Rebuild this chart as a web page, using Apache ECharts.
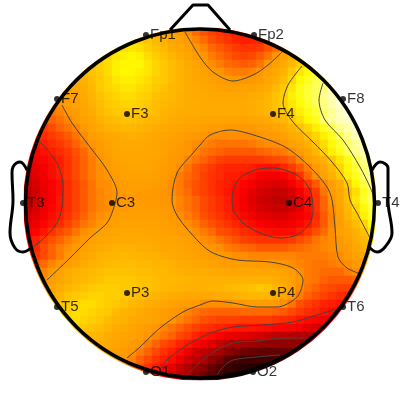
<!DOCTYPE html>
<html><head><meta charset="utf-8">
<style>html,body{margin:0;padding:0;background:#fff}#c{width:400px;height:400px}</style>
<script src="https://cdn.jsdelivr.net/npm/echarts@6/dist/echarts.min.js"></script>
</head><body><div id="c"></div>
<script>
// potential map: each row holds only the cells inside the head, centred
const row00=[66,64,62,60,57,55,51,48,46,44,43,41,41,41];
const row01=[73,72,71,69,67,65,62,60,57,54,51,48,46,44,42,41,41,42,44,47];
const row02=[71,72,73,74,73,71,69,67,64,62,59,56,54,51,49,47,45,44,44,45,48,51,56,62];
const row03=[70,72,74,75,76,75,73,71,69,66,64,61,58,56,53,51,49,47,46,47,49,52,56,60,64,69];
const row04=[66,68,71,73,75,76,76,76,74,72,70,68,66,63,60,58,55,53,51,50,49,50,52,56,59,63,67,71,74,78];
const row05=[63,66,69,71,73,75,76,76,75,74,72,70,68,66,64,62,60,57,56,54,53,53,54,56,59,62,66,70,74,77,81,88];
const row06=[60,62,65,68,70,72,74,75,75,74,73,71,70,68,66,64,62,61,59,58,57,56,56,56,58,61,64,68,72,76,79,83,87,92];
const row07=[58,60,62,64,67,70,72,73,74,74,73,72,70,69,67,66,64,63,62,61,60,59,59,60,60,62,64,67,70,74,78,81,84,87,92,95];
const row08=[56,58,60,63,66,69,71,72,73,73,72,71,69,68,67,65,64,63,63,62,62,62,62,62,63,64,66,69,71,75,78,81,84,88,92,95];
const row09=[54,56,58,60,62,65,68,70,71,72,72,71,70,68,67,66,65,64,64,63,63,63,63,63,63,64,65,67,69,71,74,77,80,84,87,91,95,96];
const row10=[50,52,54,56,58,61,64,67,69,70,70,70,70,69,68,66,65,64,64,64,63,63,63,63,63,63,64,65,66,68,70,72,75,78,81,85,89,93,96,97];
const row11=[47,50,52,54,57,59,62,65,67,68,69,69,68,67,66,65,64,63,62,62,61,61,61,60,60,60,61,62,63,65,67,70,73,76,79,85,89,92,94,96];
const row12=[43,45,47,50,52,54,57,60,63,65,66,67,67,66,65,64,63,62,61,60,60,59,58,58,57,57,57,57,58,59,61,63,66,69,72,75,79,83,88,91,94,96];
const row13=[41,43,45,47,49,52,55,58,60,62,63,64,65,64,63,62,61,60,59,58,57,56,55,55,55,55,55,55,56,57,58,60,63,65,69,72,75,79,84,88,92,95];
const row14=[39,41,43,45,47,50,53,56,58,60,62,63,63,63,62,61,60,59,58,56,55,54,53,52,52,52,52,53,54,55,55,56,59,62,65,69,73,77,81,85,89,93];
const row15=[36,37,39,41,43,45,48,51,54,57,59,61,62,62,62,62,61,60,58,57,56,54,52,51,50,49,49,49,49,50,51,52,53,55,58,61,67,71,75,79,84,88,91,94];
const row16=[33,35,37,39,41,44,47,50,53,56,58,60,61,62,62,61,60,59,57,56,54,52,50,48,46,45,45,45,45,45,46,47,48,50,54,58,62,65,70,74,78,83,88,92];
const row17=[31,33,35,38,41,44,47,50,53,55,57,59,60,61,61,61,60,58,57,55,52,49,47,45,43,42,42,42,41,40,39,40,42,45,49,53,57,62,67,72,76,81,86,90];
const row18=[30,32,35,38,41,44,47,50,53,55,56,58,60,60,60,60,59,58,56,53,51,49,46,44,43,41,41,40,38,36,35,35,36,39,44,50,55,60,65,70,75,79,85,89];
const row19=[29,31,34,36,39,43,46,49,52,55,55,57,58,59,59,59,58,57,55,53,50,48,46,44,42,41,39,37,35,33,32,31,32,35,39,44,49,54,59,64,71,76,82,87];
const row20=[28,30,33,36,39,43,46,49,52,54,55,56,57,58,58,58,57,56,55,53,51,48,46,44,42,40,38,36,33,31,30,29,29,31,35,40,45,52,58,62,68,73,79,84];
const row21=[27,30,33,36,40,43,46,49,52,54,55,56,57,57,57,57,57,56,56,54,52,50,47,45,43,41,38,35,32,30,29,28,28,29,33,38,44,50,56,61,68,74,80,85];
const row22=[28,31,34,37,40,43,46,49,52,54,55,57,57,58,58,58,58,57,56,54,52,50,47,45,43,41,38,35,33,31,30,29,29,30,33,38,44,50,55,60,67,72,77,82];
const row23=[30,32,35,38,41,44,47,50,53,55,56,58,59,59,59,59,59,58,57,55,53,51,48,46,44,42,40,37,35,33,32,31,31,33,35,37,43,49,54,59,66,70,75,80];
const row24=[32,34,37,40,43,46,49,52,54,56,58,59,60,60,60,60,60,59,58,57,55,53,50,48,46,44,42,40,38,36,35,34,34,35,37,40,44,49,54,58,64,68,72,77];
const row25=[35,37,40,44,47,49,52,55,57,59,60,61,62,62,62,61,61,60,59,58,57,55,53,51,48,47,45,43,42,40,39,38,38,38,41,44,48,51,55,59,62,65,69,74];
const row26=[38,41,45,48,50,53,55,57,59,61,62,63,63,63,63,63,62,61,61,60,59,57,55,54,52,50,48,46,45,44,44,44,44,45,47,49,52,54,55,57,60,64,67,72];
const row27=[39,42,47,50,53,55,57,59,61,63,64,65,65,65,64,64,63,62,62,61,60,59,57,56,55,53,52,51,50,49,49,49,49,50,51,52,53,54,55,56,58,62,66,70];
const row28=[42,44,47,50,53,56,58,61,63,65,66,66,67,66,66,65,65,64,63,62,61,60,59,58,57,56,55,55,54,54,54,54,54,54,53,53,53,53,54,55,57,60,62,66];
const row29=[48,51,54,56,58,60,63,65,66,67,68,68,68,67,67,66,66,65,64,63,62,61,60,59,58,58,58,58,57,57,56,56,55,54,53,52,52,53,54,55,57,60];
const row30=[52,54,57,60,63,65,66,67,68,69,69,69,69,68,68,67,67,66,65,64,64,64,63,63,62,62,62,62,61,61,61,60,58,55,53,52,51,51,51,53,55,57];
const row31=[54,55,58,61,64,66,67,68,69,70,70,70,70,69,69,68,67,67,66,66,65,65,65,65,65,65,65,65,65,65,64,62,59,56,53,52,50,49,49,49,50,52];
const row32=[57,61,64,66,68,69,70,71,71,71,70,70,69,69,68,67,66,66,65,65,65,66,66,67,68,68,69,70,69,66,64,60,55,52,50,48,47,46,46,46];
const row33=[60,63,66,69,70,71,72,72,71,71,70,69,68,67,66,65,64,63,62,62,62,62,63,64,65,66,67,67,66,64,61,57,53,50,48,46,44,43,42,42];
const row34=[66,69,71,72,73,73,72,71,70,69,67,66,64,63,62,60,59,58,57,55,55,55,55,56,57,58,58,58,57,55,52,48,46,44,42,41,40,38];
const row35=[71,72,73,73,72,71,70,68,66,65,63,61,60,58,57,56,54,52,51,50,50,50,50,51,51,51,51,50,49,47,45,43,42,40,38,37];
const row36=[72,72,73,72,71,70,68,66,65,63,62,61,60,58,56,54,52,50,48,47,46,46,46,45,45,45,45,44,43,42,40,38,37,35,33,32];
const row37=[71,71,70,69,68,66,64,63,61,59,58,56,54,52,50,48,46,44,43,42,41,40,40,40,39,38,37,37,37,35,33,31,29,28];
const row38=[69,68,67,66,64,62,61,60,58,56,54,52,50,47,45,42,40,38,36,34,33,32,31,30,29,28,27,26,26,25,25,25];
const row39=[66,66,64,63,61,60,58,56,53,50,47,45,42,40,37,35,32,29,26,24,23,22,21,20,20,20,20,20,20,20];
const row40=[62,61,59,58,56,53,50,47,44,41,38,34,30,28,26,23,19,17,15,14,13,13,13,14,15,15];
const row41=[60,58,57,54,50,47,44,41,38,34,30,27,24,20,16,12,10,8,8,8,8,9,10,10];
const row42=[54,51,48,44,41,37,33,29,25,21,18,14,11,8,6,5,5,5,5,6];
const row43=[42,39,35,31,27,23,19,15,12,9,6,4,3,3];
const rows=[row00,row01,row02,row03,row04,row05,row06,row07,row08,row09,row10,row11,row12,row13,row14,row15,row16,row17,row18,row19,row20,row21,row22,row23,row24,row25,row26,row27,row28,row29,row30,row31,row32,row33,row34,row35,row36,row37,row38,row39,row40,row41,row42,row43];
const GRID=44;
const hotColors=['#000000','#200000','#3e0000','#5a0000','#780000','#920000','#ac0000','#be0000','#e10000','#fa0000','#ff1400','#ff3200','#ff5000','#ff7300','#ff9600','#ffa200','#ffac00','#ffbc00','#ffd400','#fff800','#ffff28','#ffff5a','#ffff8c','#ffffb9','#ffffdc','#ffffff'];

// electrodes
const electrodeNames=['Fp1','Fp2','F7','F3','F4','F8','T3','C3','C4','T4','T5','P3','P4','T6','O1','O2'];
const electrodeX=[146,254,57,127,273,343,23,112,289,378,57,127,273,343,146,253];
const electrodeY=[35,35,99,114,114,99,203,203,203,203,307,293,293,307,372,372];

// contour lines
const contourA=[[185,32],[200,57],[213,72],[233,81],[253,75],[268,65],[282,52]];
const contourB=[[62,105],[72,123],[90,147],[107,170],[117,193],[113,210],[107,223],[90,238],[70,258],[47,280]];
const contourC=[[40,142],[57,163],[63,187],[62,207],[57,223],[45,237],[32,248]];
const contourD=[[127,358],[140,347],[160,328],[183,312],[200,305],[213,301],[233,303],[257,307],[277,307],[297,297],[303,280],[293,268],[270,262],[237,260],[213,253],[200,243],[178,217],[172,200],[177,173],[193,153],[200,145],[210,135],[230,130],[260,137],[287,148],[310,167],[327,187],[332,200],[335,227],[338,257],[347,268],[358,273]];
const contourE=[[233,210],[232,200],[238,180],[255,170],[273,168],[297,175],[310,190],[313,210],[310,223],[297,235],[280,238],[260,233],[243,223],[233,210]];
const contourF=[[302,66],[288,85],[283,103],[293,122],[313,142],[332,162],[347,183],[350,200],[357,213],[370,238]];
const contourG=[[323,83],[319,100],[325,120],[343,140],[360,167],[370,187],[375,200]];
const contourH=[[340,308],[317,315],[293,322],[263,325],[233,327],[213,332],[200,338],[187,345],[167,360],[160,370]];
const contourI=[[307,338],[283,338],[257,341],[233,343],[217,350],[200,362],[187,375]];
const contourJ=[[280,355],[257,357],[233,360],[223,367],[217,375]];
const contours=[contourA,contourB,contourC,contourD,contourE,contourF,contourG,contourH,contourI,contourJ];

// head furniture
const nose=[[170,30],[193,5],[208,5],[230,30]];
const earL=[[27,170],[20,162],[13,167],[12,173],[13,200],[10,233],[15,248],[23,252],[32,247]];
const earR=[[372,170],[380,162],[388,168],[388,200],[392,233],[385,247],[377,252],[369,247]];

const cells=[];
rows.forEach((r,j)=>{const s=(GRID-r.length)/2;r.forEach((v,i)=>cells.push([s+i,j,v]));});
const idx=Array.from({length:GRID},(_,i)=>i);

const chart=echarts.init(document.getElementById('c'),null,{renderer:'canvas'});
const lineSeries=(data,w,smooth,color)=>({type:'line',xAxisIndex:1,yAxisIndex:1,data,symbol:'none',smooth,z:3,silent:true,
  lineStyle:{width:w,color},animation:false});
chart.setOption({
  animation:false,
  backgroundColor:'#fff',
  grid:[{left:24,top:28,width:352,height:352,show:false},{left:0,top:0,width:400,height:400,show:false}],
  xAxis:[{type:'category',gridIndex:0,data:idx,show:false},
         {type:'value',gridIndex:1,min:0,max:400,show:false}],
  yAxis:[{type:'category',gridIndex:0,data:idx,inverse:true,show:false},
         {type:'value',gridIndex:1,min:0,max:400,inverse:true,show:false}],
  visualMap:{show:false,seriesIndex:0,min:0,max:100,inRange:{color:hotColors}},
  graphic:[
    {type:'ring',shape:{cx:200,cy:204,r:270,r0:177},style:{fill:'#fff'},z:2,silent:true},
    {type:'circle',shape:{cx:200,cy:203.5,r:174.5},style:{fill:'none',stroke:'#000',lineWidth:3.5},z:4,silent:true}
  ],
  series:[
    {type:'heatmap',xAxisIndex:0,yAxisIndex:0,data:cells,z:1,silent:true,progressive:0,itemStyle:{borderWidth:0}},
    ...contours.map(c=>lineSeries(c,1,0.3,'#444')),
    lineSeries(nose,3,false,'#000'),
    lineSeries(earL,3,0.4,'#000'),
    lineSeries(earR,3,0.4,'#000'),
    {type:'scatter',xAxisIndex:1,yAxisIndex:1,z:5,silent:true,symbolSize:6,itemStyle:{color:'#000'},
     data:electrodeNames.map((n,i)=>({name:n,value:[electrodeX[i],electrodeY[i]]})),
     label:{show:true,position:'right',distance:1,formatter:'{b}',color:'#000',fontSize:15,fontFamily:'Liberation Sans'}}
  ]
});
</script></body></html>
